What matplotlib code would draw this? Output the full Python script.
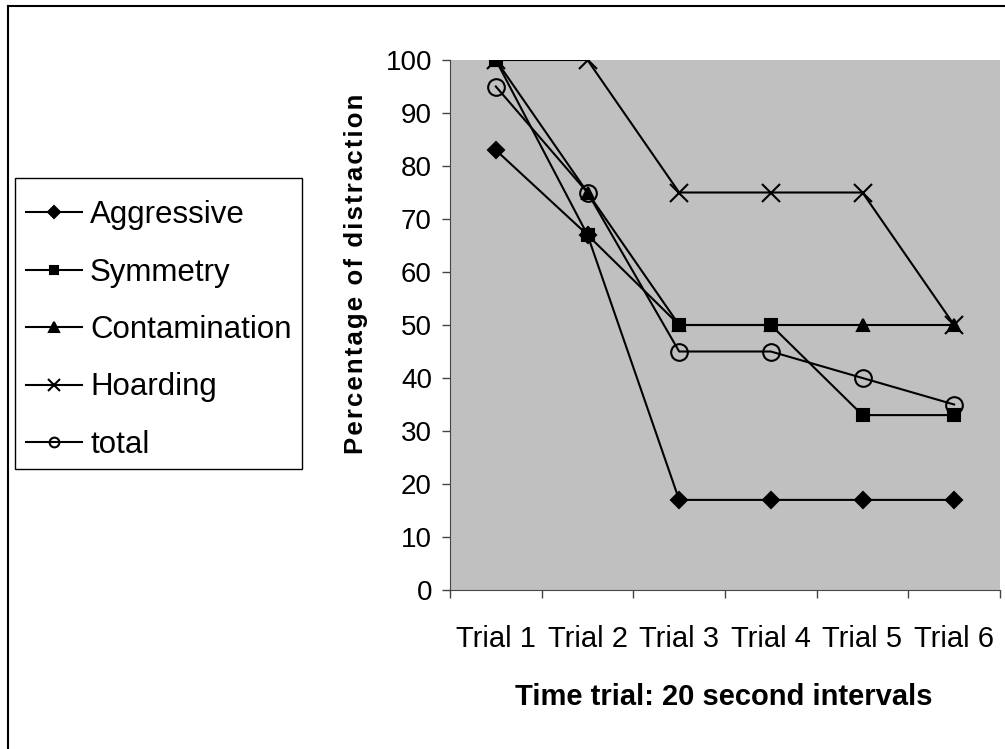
import numpy as np
import matplotlib.pyplot as plt
from matplotlib.lines import Line2D
from matplotlib.patches import Rectangle

plt.rcParams["font.family"] = ["Liberation Sans", "DejaVu Sans"]

# Data
trials = ["Trial 1", "Trial 2", "Trial 3", "Trial 4", "Trial 5", "Trial 6"]
aggressive = [83, 67, 17, 17, 17, 17]
symmetry = [100, 67, 50, 50, 33, 33]
contamination = [100, 75, 50, 50, 50, 50]
hoarding = [100, 100, 75, 75, 75, 50]
total = [95, 75, 45, 45, 40, 35]

names = ["Aggressive", "Symmetry", "Contamination", "Hoarding", "total"]
series = [aggressive, symmetry, contamination, hoarding, total]
# marker, plot size, legend size, filled
styles = [("D", 8, 6, True), ("s", 8, 6, True), ("^", 9, 7, True),
          ("x", 13, 9, True), ("o", 12, 7, False)]

W, H = 1005, 749
fig = plt.figure(figsize=(W / 100, H / 100), dpi=100)
ax = fig.add_axes([450 / W, 1 - 590 / H, 550 / W, 530 / H])
ax.set_facecolor("#c0c0c0")

x = np.arange(len(trials))
handles = []
for name, vals, (m, ms, lms, filled) in zip(names, series, styles):
    kw = dict(color="black", lw=1.5, marker=m, mew=1.5)
    if not filled:
        kw["mfc"] = "none"
    ax.plot(x, vals, ms=ms, **kw)
    handles.append(Line2D([], [], ms=lms, **kw))

ax.set_xlim(-0.5, len(trials) - 0.5)
ax.set_ylim(0, 100)
ax.set_yticks(range(0, 101, 10))
ax.set_xticks(np.arange(-0.5, len(trials), 1.0))
ax.set_xticklabels([])
ax.set_xticks(x, minor=True)
ax.set_xticklabels(trials, minor=True)
ax.tick_params(axis="x", which="minor", length=0, labelsize=21, pad=25)
ax.tick_params(axis="x", which="major", length=6, width=1, color="#444444")
ax.tick_params(axis="y", length=6, width=1, color="#444444", labelsize=20, pad=7)

for side in ["top", "right"]:
    ax.spines[side].set_visible(False)
ax.spines["left"].set_color("#444444")
ax.spines["bottom"].set_color("#444444")

ylab = "\u200a".join("Percentage of distraction")
fig.text(356 / W, 1 - 273.5 / H, ylab, rotation=90, ha="center", va="center",
         fontsize=18.5, fontweight="bold")
fig.text(723.5 / W, 1 - 697 / H, "Time trial: 20 second intervals", ha="center",
         va="center", fontsize=21, fontweight="bold")

# legend without its own frame; the box is drawn separately
leg = fig.legend(handles, names, loc="upper left", bbox_to_anchor=(26 / W, 1 - 200 / H),
                 fontsize=22.5, frameon=False, handlelength=1.8, borderpad=0,
                 labelspacing=0.88, handletextpad=0.25, borderaxespad=0)
fig.add_artist(Rectangle((15 / W, 1 - 469 / H), 287 / W, 291 / H,
                         transform=fig.transFigure, fill=False,
                         edgecolor="black", lw=1.0))

# outer frame (only top and left edges are visible)
fig.add_artist(Line2D([8 / W, 8 / W], [0, 1 - 6 / H], transform=fig.transFigure,
                      color="black", lw=1.5))
fig.add_artist(Line2D([8 / W, 1], [1 - 6 / H, 1 - 6 / H], transform=fig.transFigure,
                      color="black", lw=1.5))

fig.savefig("out.png", dpi=100)
